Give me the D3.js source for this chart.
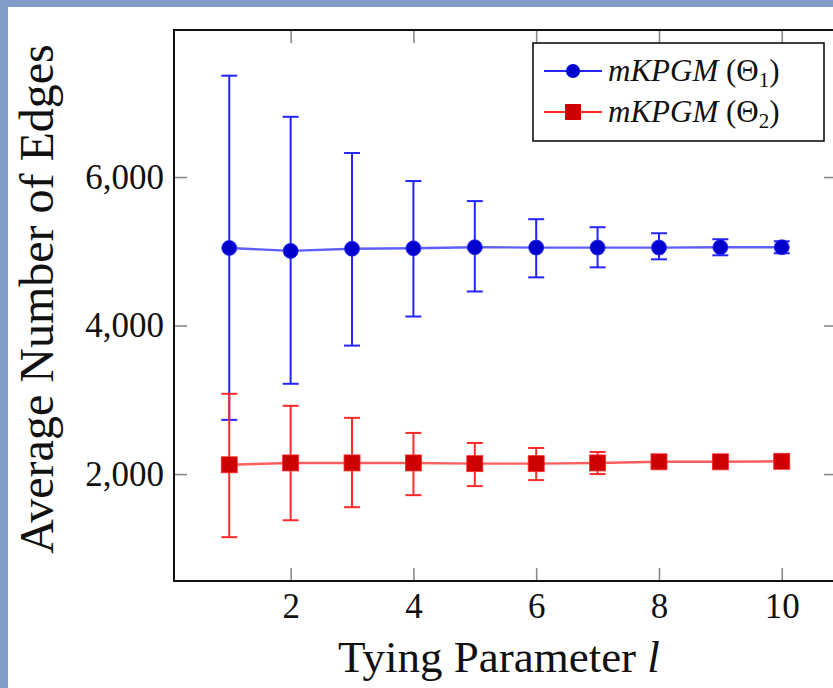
<!DOCTYPE html>
<html>
<head>
<meta charset="utf-8">
<script src="https://cdn.jsdelivr.net/npm/d3@7"></script>
<style>
  html, body { margin: 0; padding: 0; background: #7f9dc6; }
  svg { display: block; }
</style>
</head>
<body>
<svg id="chart" width="833" height="688"></svg>
<script>
// ---- data ----
const tying = [1, 2, 3, 4, 5, 6, 7, 8, 9, 10];
const theta1Mean = [5045, 5005, 5035, 5040, 5055, 5050, 5050, 5050, 5055, 5055];
const theta1Low  = [2730, 3216, 3730, 4122, 4459, 4649, 4784, 4892, 4946, 4973];
const theta1High = [7365, 6811, 6324, 5946, 5676, 5432, 5324, 5243, 5162, 5135];
const theta2Mean = [2125, 2150, 2150, 2150, 2140, 2140, 2150, 2165, 2165, 2172];
const theta2Low  = [1150, 1378, 1554, 1716, 1838, 1919, 2000, 2100, 2120, 2140];
const theta2High = [3081, 2919, 2757, 2554, 2419, 2351, 2297, 2230, 2210, 2205];
const xTicks = [2, 4, 6, 8, 10];
const yTicks = [2000, 4000, 6000];
const seriesNames = ["mKPGM", "mKPGM"];
const seriesSubs = ["1", "2"];

const svg = d3.select("#chart");
const W = 833, H = 688;
const plot = {left: 174, right: 837, top: 30, bottom: 581};

// background
svg.append("rect").attr("x", 0).attr("y", 0).attr("width", W).attr("height", H).attr("fill", "#7f9dc6");
svg.append("rect").attr("x", 8).attr("y", 7).attr("width", W).attr("height", H).attr("fill", "#ffffff");

const x = d3.scaleLinear().domain([0.1, 10.9]).range([plot.left, plot.right]);
const y = d3.scaleLinear().domain([560, 7980]).range([plot.bottom, plot.top]);

const serif = "'Liberation Serif', 'Times New Roman', serif";
const tickLen = 13;
const tickColor = "#8a8a8a";

// ticks (inward on all sides)
const g = svg.append("g");
const axB = d3.axisBottom(x).tickValues(xTicks).tickSize(-tickLen).tickFormat(d3.format("d")).tickPadding(12);
const axT = d3.axisTop(x).tickValues(xTicks).tickSize(-tickLen).tickFormat("");
const axL = d3.axisLeft(y).tickValues(yTicks).tickSize(-tickLen).tickFormat(d3.format(",")).tickPadding(10);
const axR = d3.axisRight(y).tickValues(yTicks).tickSize(-tickLen).tickFormat("");

function styleAxis(sel) {
  sel.select(".domain").remove();
  sel.selectAll(".tick line").attr("stroke", tickColor).attr("stroke-width", 1.6);
  sel.selectAll(".tick text").attr("fill", "#111").style("font-family", serif).style("font-size", "35px");
}
g.append("g").attr("transform", `translate(0,${plot.bottom})`).call(axB).call(styleAxis);
g.append("g").attr("transform", `translate(0,${plot.top})`).call(axT).call(styleAxis);
g.append("g").attr("transform", `translate(${plot.left},0)`).call(axL).call(styleAxis);
g.append("g").attr("transform", `translate(${plot.right},0)`).call(axR).call(styleAxis);

// frame
svg.append("rect")
  .attr("x", plot.left).attr("y", plot.top)
  .attr("width", plot.right - plot.left).attr("height", plot.bottom - plot.top)
  .attr("fill", "none").attr("stroke", "#111").attr("stroke-width", 2);

// series
const series = [
  {mean: theta1Mean, low: theta1Low, high: theta1High, bar: "#2424ff", line: "#2a2aff", fill: "#0000cc", shape: "circle"},
  {mean: theta2Mean, low: theta2Low, high: theta2High, bar: "#ff2a2a", line: "#ff2a2a", fill: "#cc0000", shape: "square"}
];

const capW = 8;
series.forEach(s => {
  const pts = tying.map((t, i) => ({t, m: s.mean[i], lo: s.low[i], hi: s.high[i]}));
  svg.append("path")
    .datum(pts)
    .attr("d", d3.line().x(d => x(d.t)).y(d => y(d.m)))
    .attr("fill", "none").attr("stroke", s.line).attr("stroke-width", 2.4).attr("stroke-opacity", 0.75);
  const eb = svg.append("g").attr("stroke", s.bar).attr("stroke-width", 2);
  eb.selectAll("line.v").data(pts).join("line")
    .attr("x1", d => x(d.t)).attr("x2", d => x(d.t))
    .attr("y1", d => y(d.lo)).attr("y2", d => y(d.hi));
  eb.selectAll("line.top").data(pts).join("line")
    .attr("x1", d => x(d.t) - capW).attr("x2", d => x(d.t) + capW)
    .attr("y1", d => y(d.hi)).attr("y2", d => y(d.hi));
  eb.selectAll("line.bot").data(pts).join("line")
    .attr("x1", d => x(d.t) - capW).attr("x2", d => x(d.t) + capW)
    .attr("y1", d => y(d.lo)).attr("y2", d => y(d.lo));
  if (s.shape === "circle") {
    svg.append("g").selectAll("circle").data(pts).join("circle")
      .attr("cx", d => x(d.t)).attr("cy", d => y(d.m)).attr("r", 7.5)
      .attr("fill", s.fill).attr("stroke", s.bar).attr("stroke-width", 0.8);
  } else {
    svg.append("g").selectAll("rect").data(pts).join("rect")
      .attr("x", d => x(d.t) - 8).attr("y", d => y(d.m) - 8).attr("width", 16).attr("height", 16)
      .attr("fill", s.fill).attr("stroke", s.bar).attr("stroke-width", 0.8);
  }
});

// legend
const lg = svg.append("g");
lg.append("rect").attr("x", 533).attr("y", 43).attr("width", 291).attr("height", 98)
  .attr("fill", "#fff").attr("stroke", "#111").attr("stroke-width", 1.6);
const rowsY = [71, 112];
series.forEach((s, i) => {
  const yy = rowsY[i];
  lg.append("line").attr("x1", 544).attr("x2", 602).attr("y1", yy).attr("y2", yy)
    .attr("stroke", s.bar).attr("stroke-width", 1.8);
  if (s.shape === "circle") {
    lg.append("circle").attr("cx", 573).attr("cy", yy).attr("r", 7).attr("fill", s.fill);
  } else {
    lg.append("rect").attr("x", 565).attr("y", yy - 8).attr("width", 16).attr("height", 16).attr("fill", s.fill);
  }
  const t = lg.append("text").attr("x", 608).attr("y", yy + 10)
    .style("font-family", serif).style("font-size", "31px").attr("fill", "#111");
  t.append("tspan").style("font-style", "italic").text(seriesNames[i]);
  t.append("tspan").text(" (Θ");
  t.append("tspan").attr("dy", 6).style("font-size", "21px").text(seriesSubs[i]);
  t.append("tspan").attr("dy", -6).text(")");
});

// axis titles
svg.append("text")
  .attr("transform", "translate(53,299) rotate(-90)")
  .attr("text-anchor", "middle")
  .style("font-family", serif).style("font-size", "48px").attr("fill", "#111")
  .text("Average Number of Edges");

const xt = svg.append("text")
  .attr("x", 499).attr("y", 672).attr("text-anchor", "middle")
  .style("font-family", serif).style("font-size", "45px").attr("fill", "#111");
xt.append("tspan").text("Tying Parameter ");
xt.append("tspan").style("font-style", "italic").text("l");
</script>
</body>
</html>
